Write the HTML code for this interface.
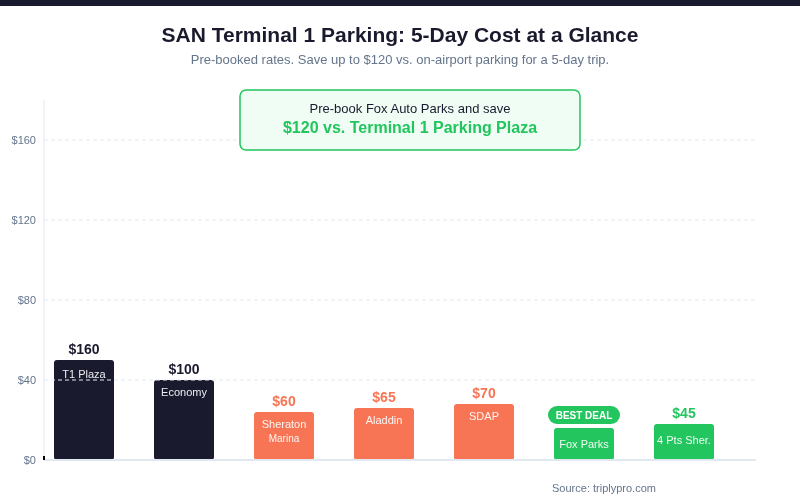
<!DOCTYPE html>
<html>
<head>
<meta charset="utf-8">
<style>
html,body{margin:0;padding:0;background:#fff;width:800px;height:500px;overflow:hidden;}
svg{display:block;will-change:transform;font-family:"Liberation Sans",sans-serif;}
</style>
</head>
<body>
<svg width="800" height="500" viewBox="0 0 800 500">
  <rect x="0" y="0" width="800" height="500" fill="#ffffff"/>
  <rect x="0" y="0" width="800" height="6" fill="#1a1a2e"/>

  <!-- title -->
  <text x="400" y="42" text-anchor="middle" font-size="21" font-weight="700" fill="#1a1a2e">SAN Terminal 1 Parking: 5-Day Cost at a Glance</text>
  <text x="400" y="64" text-anchor="middle" font-size="13" fill="#64748b">Pre-booked rates. Save up to $120 vs. on-airport parking for a 5-day trip.</text>

  <!-- y axis -->
  <line x1="44" y1="100" x2="44" y2="460" stroke="#e2e8f0" stroke-width="1"/>

  <!-- y labels -->
  <g font-size="11" fill="#64748b" text-anchor="end">
    <text x="36" y="144">$160</text>
    <text x="36" y="224">$120</text>
    <text x="36" y="304">$80</text>
    <text x="36" y="384">$40</text>
    <text x="36" y="464">$0</text>
  </g>

  <!-- bars -->
  <g>
    <rect x="54" y="360" width="60" height="100" rx="3" fill="#1a1a2e"/>
    <rect x="154" y="380" width="60" height="80" rx="3" fill="#1a1a2e"/>
    <rect x="254" y="412" width="60" height="48" rx="3" fill="#f77555"/>
    <rect x="354" y="408" width="60" height="52" rx="3" fill="#f77555"/>
    <rect x="454" y="404" width="60" height="56" rx="3" fill="#f77555"/>
    <rect x="554" y="428" width="60" height="32" rx="3" fill="#22c55e"/>
    <rect x="654" y="424" width="60" height="36" rx="3" fill="#22c55e"/>
  </g>

  <!-- grid lines (drawn over bars) -->
  <g stroke="#e2e8f0" stroke-width="1" stroke-dasharray="4 3">
    <line x1="44" y1="140" x2="756" y2="140"/>
    <line x1="44" y1="220" x2="756" y2="220"/>
    <line x1="44" y1="300" x2="756" y2="300"/>
    <line x1="44" y1="380" x2="756" y2="380"/>
  </g>

  <!-- baseline -->
  <line x1="44" y1="460" x2="756" y2="460" stroke="#e2e8f0" stroke-width="2"/>
  <rect x="43" y="456" width="2" height="4" fill="#000"/>

  <!-- value labels -->
  <g font-size="14" font-weight="700" text-anchor="middle">
    <text x="84" y="354" fill="#1a1a2e">$160</text>
    <text x="184" y="374" fill="#1a1a2e">$100</text>
    <text x="284" y="406" fill="#f77555">$60</text>
    <text x="384" y="402" fill="#f77555">$65</text>
    <text x="484" y="398" fill="#f77555">$70</text>
    <text x="684" y="418" fill="#22c55e">$45</text>
  </g>

  <!-- bar labels -->
  <g font-size="11" fill="#ffffff" fill-opacity="0.92" text-anchor="middle">
    <text x="84" y="378">T1 Plaza</text>
    <text x="184" y="396">Economy</text>
    <text x="284" y="428">Sheraton</text>
    <text x="284" y="441.5" font-size="10">Marina</text>
    <text x="384" y="424">Aladdin</text>
    <text x="484" y="420">SDAP</text>
    <text x="584" y="448">Fox Parks</text>
    <text x="684" y="444">4 Pts Sher.</text>
  </g>

  <!-- best deal pill -->
  <rect x="548" y="406" width="72" height="18" rx="9" fill="#22c55e"/>
  <text x="584" y="419" text-anchor="middle" font-size="10" font-weight="700" fill="#ffffff">BEST DEAL</text>

  <!-- callout -->
  <rect x="240" y="90" width="340" height="60" rx="6" fill="#f0fdf4" stroke="#22c55e" stroke-width="1.5"/>
  <text x="410" y="113" text-anchor="middle" font-size="13" fill="#1a1a2e">Pre-book Fox Auto Parks and save</text>
  <text x="410" y="132.5" text-anchor="middle" font-size="16" font-weight="700" fill="#22c55e">$120 vs. Terminal 1 Parking Plaza</text>

  <!-- source -->
  <text x="604" y="492" text-anchor="middle" font-size="11" fill="#64748b">Source: triplypro.com</text>
</svg>
</body>
</html>
